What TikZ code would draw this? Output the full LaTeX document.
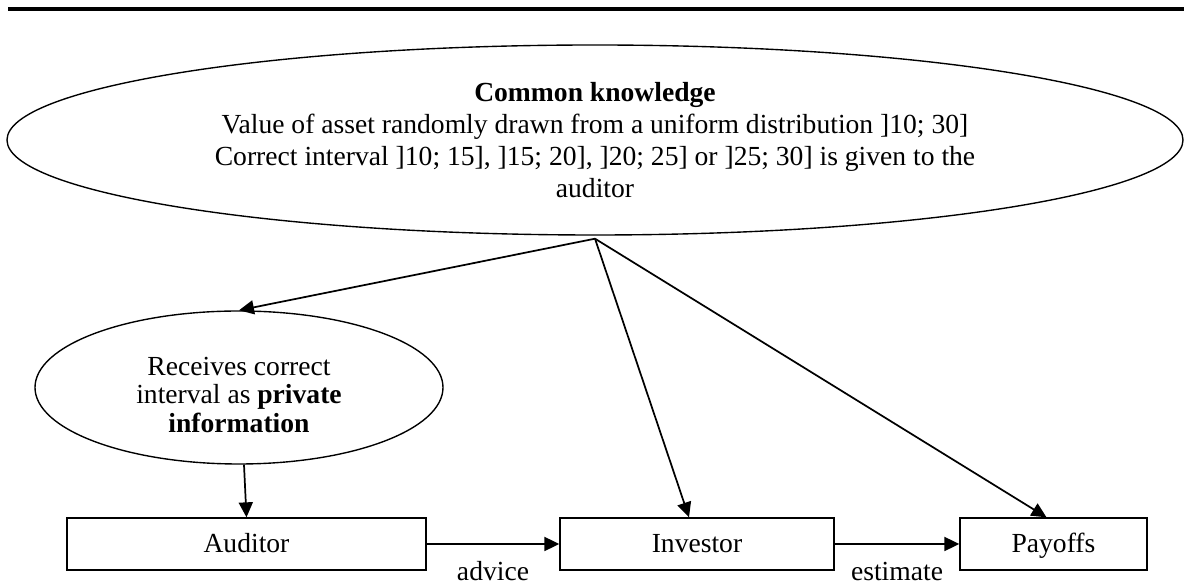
\documentclass[tikz,border=0pt]{standalone}
\usepackage{fontspec}
\setmainfont{Liberation Serif}
\usetikzlibrary{arrows.meta}
\usetikzlibrary{shapes.geometric}
\newlength{\px}
\setlength{\px}{0.4348pt}

\begin{document}
\begin{tikzpicture}[x=\px,y=-\px,
    every node/.style={font=\fontsize{12}{13.8}\selectfont},
    bubble/.style={draw,ellipse,line width=0.6pt,inner sep=0pt,align=center},
    box/.style={draw,rectangle,line width=0.6pt,minimum height=52\px,text height=10.8pt,text depth=3pt},
    arr/.style={-{Triangle[length=6.5pt,width=6.1pt]},line width=0.75pt},
    lbl/.style={anchor=base,yshift=-37\px}]
      \useasboundingbox (0,0) rectangle (1184,584);
      \draw[line width=4\px] (8,9) -- (1184,9);
      \node[bubble,minimum width=1176\px,minimum height=190\px] (common) at (595,140)
        {\textbf{Common knowledge}\\Value of asset randomly drawn from a uniform distribution ]10; 30]\\Correct interval ]10; 15], ]15; 20], ]20; 25] or ]25; 30] is given to the\\auditor};
      \node[bubble,minimum width=408\px,minimum height=153\px] (priv) at (239,387.5) {};
      \node[align=center,font=\fontsize{12}{12.6}\selectfont] (privtext) at (239,395)
        {Receives correct\\interval as \textbf{private}\\\textbf{information}};
      \node[box,minimum width=359\px] (aud) at (246.5,544) {Auditor};
      \node[box,minimum width=274\px] (inv) at (697,544) {Investor};
      \node[box,minimum width=187\px] (pay) at (1053.5,544) {Payoffs};
      \coordinate (src) at ([yshift=-3\px]common.south);
      \draw[arr] (src) -- (priv.north);
      \draw[arr] (src) -- ([xshift=-8\px]inv.north);
      \draw[arr] (src) -- ([xshift=-7\px]pay.north);
      \draw[arr] ([xshift=5\px]priv.south) -- (aud.north);
      \draw[arr] (aud) -- node[lbl] {advice} (inv);
      \draw[arr] (inv) -- node[lbl] {estimate} (pay);
\end{tikzpicture}
\end{document}
